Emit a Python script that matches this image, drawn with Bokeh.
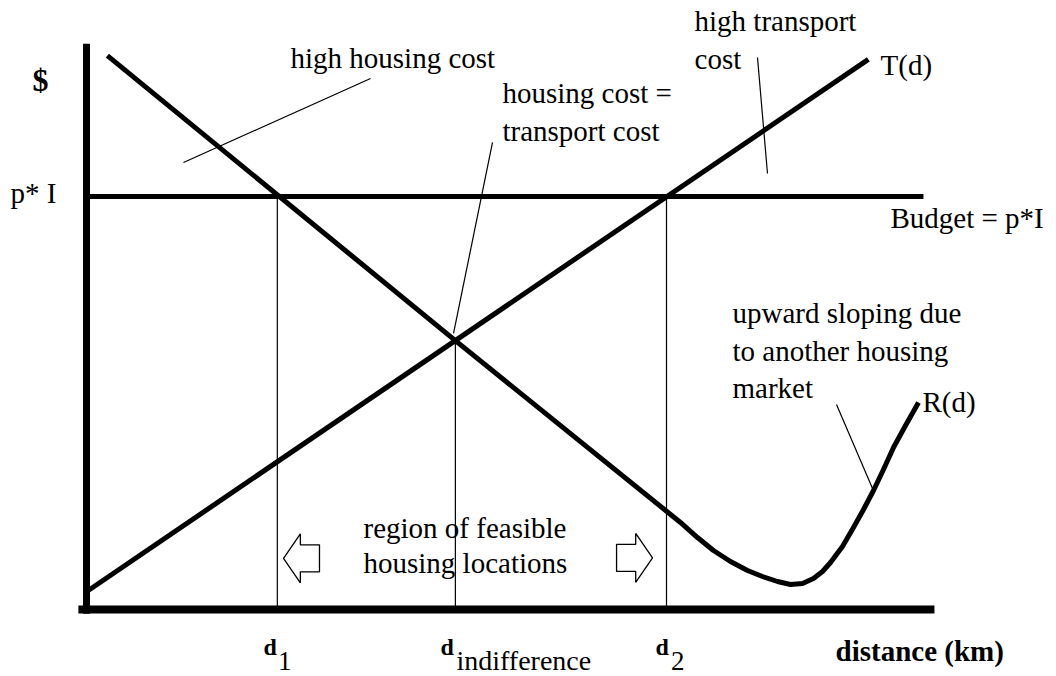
from bokeh.plotting import figure
from bokeh.models import Range1d
from bokeh.core.properties import value
from bokeh.embed import file_html
from bokeh.resources import INLINE
import numpy as np

# ---------------- data (distance units, $ units) ----------------
distance_T = [0.03, 13.48]
cost_T = [0.46, 13.32]

distance_R = [0.36, 6.36, 10.241, 10.534, 10.810, 11.103, 11.397, 11.655, 11.914, 12.138,
              12.345, 12.534, 12.690, 12.828, 13.034, 13.224, 13.397, 13.569, 13.741,
              13.914, 14.121, 14.345]
cost_R = [13.41, 6.51, 2.107, 1.743, 1.429, 1.162, 0.944, 0.799, 0.678, 0.605,
          0.630, 0.751, 0.920, 1.138, 1.525, 1.985, 2.421, 2.881, 3.390,
          3.922, 4.455, 5.012]

budget = 10.0
budget_span = [0.03, 14.43]

d1 = 3.29
d_indiff = 6.36
d2 = 10.0

axis_x_span = [-0.14, 14.62]
axis_y_span = [-0.10, 13.70]

# ---------------- figure ----------------
W, H = 1056, 676
p = figure(width=W, height=H, output_backend="svg", toolbar_location=None,
           x_range=Range1d(-1.48276, 16.72414), y_range=Range1d(-1.62228, 14.74576),
           min_border=0, outline_line_color=None, background_fill_color="white",
           border_fill_color="white")
p.xaxis.visible = False
p.yaxis.visible = False
p.grid.visible = False

BLACK = "black"
FONT = value("Liberation Serif")

# axes
p.line([0, 0], axis_y_span, line_width=7, line_color=BLACK)
p.line(axis_x_span, [0, 0], line_width=8, line_color=BLACK)

# budget line
p.line(budget_span, [budget, budget], line_width=5, line_color=BLACK)

# vertical guides
cost_at_indiff = float(np.interp(d_indiff, distance_T, cost_T))
p.segment(x0=[d1, d_indiff, d2], y0=[0, 0, 0], x1=[d1, d_indiff, d2],
          y1=[budget, cost_at_indiff, budget], line_width=1.2, line_color=BLACK)

# T(d) and R(d)
p.line(distance_T, cost_T, line_width=5, line_color=BLACK)
p.line(distance_R, cost_R, line_width=5, line_color=BLACK, line_join="round")

# leader lines
p.segment(x0=[1.672, 7.000, 11.569, 12.931], y0=[10.823, 11.308, 13.366, 4.964],
          x1=[4.897, 6.328, 11.741, 13.552], y1=[12.857, 6.683, 10.557, 2.930],
          line_width=1.2, line_color=BLACK)

# block arrows (outline)
def block_arrow(tip_x, tip_y, direction):
    # direction = -1: pointing left (body to the right of tip); +1: pointing right
    length, head, hh, sh = 0.62, 0.29, 0.593, 0.327
    xs = [0, head, head, length, length, head, head]
    ys = [0, hh, sh, sh, -sh, -sh, -hh]
    xs = [tip_x - direction * v for v in xs]
    ys = [tip_y + v for v in ys]
    return xs, ys

lx, ly = block_arrow(3.397, 1.24, -1)
rx, ry = block_arrow(9.759, 1.25, 1)
p.patches([lx, rx], [ly, ry], fill_color="white", line_color=BLACK, line_width=1.3)

# ---------------- texts ----------------
LIFT = 0.242  # baseline correction

def up(ys):
    return [v + LIFT for v in ys]

reg_texts = ["high housing cost", "housing cost =", "transport cost", "high transport", "cost",
             "T(d)", "Budget = p*I", "upward sloping due", "to another housing", "market",
             "R(d)", "region of feasible", "housing locations", "p* I"]
reg_x = [3.517, 7.172, 7.172, 10.483, 10.483, 13.690, 13.862, 11.138, 11.138, 11.138,
         14.414, 4.776, 4.776, -1.310]
reg_y = [13.123, 12.276, 11.356, 14.019, 13.099, 12.954, 9.249, 6.949, 6.029, 5.133,
         4.794, 1.743, 0.872, 9.831]
p.text(x=reg_x, y=up(reg_y), text=reg_texts, text_font=FONT, text_font_size=value("29px"),
       text_color=BLACK, text_baseline="alphabetic", text_align="left")

# $ symbol
p.text(x=[-0.930], y=up([12.570]), text=["$"], text_font=FONT, text_font_size=value("32px"),
       text_font_style="bold", text_color=BLACK, text_baseline="alphabetic")

# d labels
p.text(x=[3.052, 6.103, 9.810], y=up([-1.162, -1.162, -1.162]), text=["d", "d", "d"],
       text_font=FONT, text_font_size=value("24px"), text_font_style="bold",
       text_color=BLACK, text_baseline="alphabetic")
p.text(x=[3.300, 10.076], y=up([-1.500, -1.500]), text=["1", "2"],
       text_font=FONT, text_font_size=value("27px"), text_color=BLACK,
       text_baseline="alphabetic")
p.text(x=[6.379], y=up([-1.480]), text=["indifference"],
       text_font=FONT, text_font_size=value("28px"), text_color=BLACK,
       text_baseline="alphabetic")

p.text(x=[12.914], y=up([-1.235]), text=["distance (km)"], text_font=FONT,
       text_font_size=value("29px"), text_font_style="bold", text_color=BLACK,
       text_baseline="alphabetic")

open("out.html", "w").write(file_html(p, INLINE))
